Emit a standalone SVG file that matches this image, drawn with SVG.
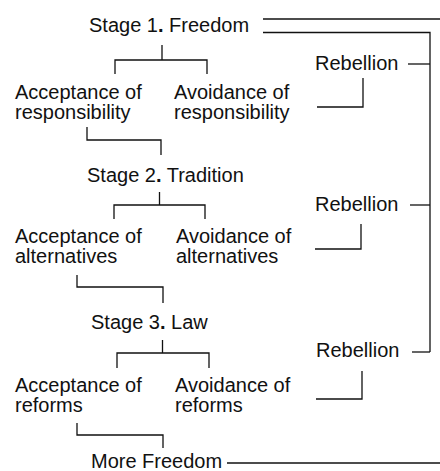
<svg xmlns="http://www.w3.org/2000/svg" width="440" height="471" viewBox="0 0 440 471">
<style>
text{font-family:"Liberation Sans",Arial,sans-serif;font-size:20px;fill:#111}
.b{font-weight:bold}
#connectors path{fill:none;stroke:#111;stroke-width:1.3}
</style>
<rect width="440" height="471" fill="#fff"/>
<g id="connectors">
<path d="M263 19H440"/>
<path d="M263 32.5H430V352"/>
<path d="M162 45V60M115 74V60H207V74"/>
<path d="M408 64H430"/>
<path d="M363 78V107H317"/>
<path d="M87 127V140H161V155"/>
<path d="M159.5 192V205M114 219V205H205V219"/>
<path d="M410 205H430"/>
<path d="M361 224V249H315"/>
<path d="M77 275V287H163V303"/>
<path d="M162.5 340V353M117 368V353H209V368"/>
<path d="M412 352H430"/>
<path d="M362 371V399H316"/>
<path d="M77 423V435H163V448"/>
<path d="M227 463H440"/>
</g>
<g id="stage1"><text x="89" y="32">Stage 1<tspan class="b">.</tspan> Freedom</text></g>
<g id="accept1"><text x="15" y="99">Acceptance of</text><text x="15" y="119">responsibility</text></g>
<g id="avoid1"><text x="174" y="99">Avoidance of</text><text x="174" y="119">responsibility</text></g>
<g id="rebellion1"><text x="315" y="70">Rebellion</text></g>
<g id="stage2"><text x="87" y="182">Stage 2<tspan class="b">.</tspan> Tradition</text></g>
<g id="accept2"><text x="15" y="243">Acceptance of</text><text x="15" y="263">alternatives</text></g>
<g id="avoid2"><text x="176" y="243">Avoidance of</text><text x="176" y="263">alternatives</text></g>
<g id="rebellion2"><text x="315" y="211">Rebellion</text></g>
<g id="stage3"><text x="91" y="329">Stage 3<tspan class="b">.</tspan> Law</text></g>
<g id="accept3"><text x="15" y="392">Acceptance of</text><text x="15" y="412">reforms</text></g>
<g id="avoid3"><text x="175" y="392">Avoidance of</text><text x="175" y="412">reforms</text></g>
<g id="rebellion3"><text x="316" y="357">Rebellion</text></g>
<g id="morefreedom"><text x="91" y="468" font-size="19.5">More Freedom</text></g>
</svg>
